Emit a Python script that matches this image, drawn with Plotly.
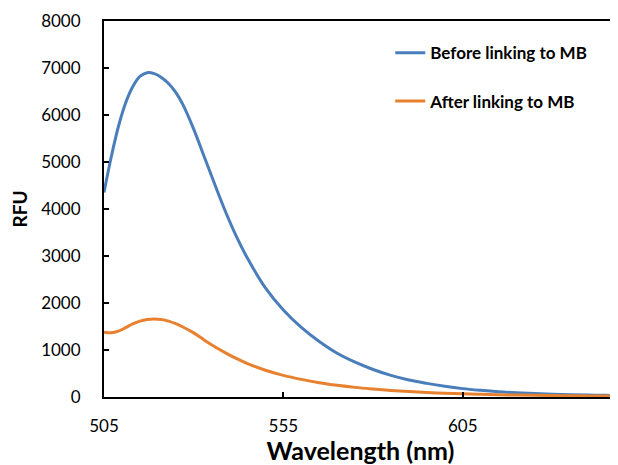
import plotly.graph_objects as go

wavelength = [505, 507, 509, 511, 513, 515, 517, 519, 521, 523, 525, 527, 530, 533, 536, 539,
              542, 545, 550, 555, 560, 565, 570, 575, 580, 585, 590, 595, 600, 605, 610, 615,
              620, 625, 630, 635, 640, 645, 648]
before_mb = [4350, 5100, 5750, 6250, 6600, 6820, 6900, 6880, 6800, 6670, 6480, 6220, 5700, 5100,
             4500, 3920, 3400, 2950, 2320, 1850, 1480, 1180, 930, 740, 585, 460, 362, 290, 228,
             178, 142, 112, 90, 73, 60, 50, 42, 35, 31]
after_mb = [1380, 1365, 1400, 1475, 1555, 1615, 1650, 1660, 1650, 1615, 1560, 1490, 1365, 1210,
            1065, 935, 815, 710, 570, 460, 375, 305, 250, 205, 170, 140, 116, 96, 81, 68, 58,
            49, 42, 36, 31, 27, 23, 20, 18]
x_ticks = [505, 555, 605]
y_ticks = [0, 1000, 2000, 3000, 4000, 5000, 6000, 7000, 8000]

FONT = "Lato"

fig = go.Figure()
fig.add_trace(go.Scatter(x=wavelength, y=before_mb, mode="lines", name="Before linking to MB",
                         line=dict(color="#4A7EBB", width=3, shape="spline", smoothing=1.0),
                         legendgroup="a"))
fig.add_trace(go.Scatter(x=wavelength, y=after_mb, mode="lines", name="After linking to MB",
                         line=dict(color="#E7812F", width=3, shape="spline", smoothing=1.0),
                         legendgroup="b"))

# page body has an 8px default margin, so the figure is sized 610x457
fig.update_layout(
    width=610, height=457,
    margin=dict(l=96, r=1, t=13, b=68, autoexpand=False),
    paper_bgcolor="white", plot_bgcolor="white",
    font=dict(family=FONT, color="black", size=17),
    legend=dict(x=0.558, y=0.962, xanchor="left", yanchor="top",
                font=dict(family=FONT, size=17, color="black", weight="bold"),
                tracegroupgap=23, traceorder="grouped", bgcolor="rgba(0,0,0,0)"),
    showlegend=True,
)
fig.update_xaxes(range=[505, 648], tickvals=x_ticks, ticks="inside", ticklen=5, tickwidth=2,
                 tickcolor="black", showline=True, linecolor="black", linewidth=2, mirror=True,
                 showgrid=False, zeroline=False, ticklabelstandoff=13, automargin=False,
                 title=dict(text="Wavelength (nm)", font=dict(family=FONT, size=25, weight="bold"),
                            standoff=2))
fig.update_yaxes(range=[0, 8000], tickvals=y_ticks, ticks="inside", ticklen=5, tickwidth=2,
                 tickcolor="black", showline=True, linecolor="black", linewidth=2, mirror=True,
                 showgrid=False, zeroline=False, ticklabelstandoff=18, automargin=False,
                 title=dict(text="RFU", font=dict(family=FONT, size=19, weight="bold"), standoff=10))

fig.write_html("out.html")
